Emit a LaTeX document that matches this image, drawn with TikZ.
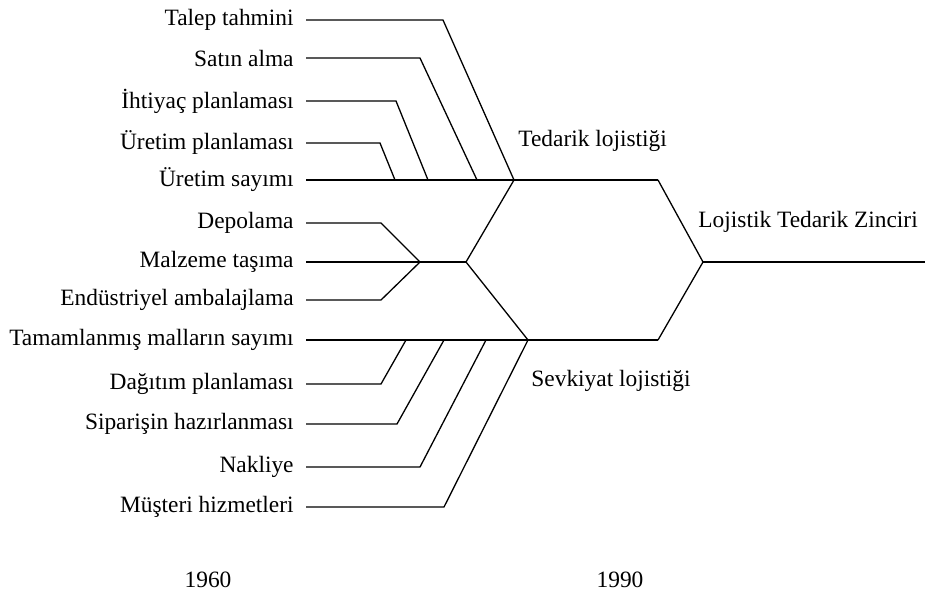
\documentclass[tikz,border=0pt]{standalone}
\usepackage{fontspec}
\setmainfont{Liberation Serif}
\usetikzlibrary{positioning}

\tikzset{
  lbl/.style={anchor=east,inner xsep=6pt,inner ysep=0pt,font=\fontsize{11.7}{13}\selectfont},
  txt/.style={inner sep=0pt,font=\fontsize{11.7}{13}\selectfont},
  branch/.style={line width=0.65pt,line join=miter}
}

\begin{document}
\begin{tikzpicture}[x=0.5pt,y=-0.5pt]
  \useasboundingbox (0,0) rectangle (925,595);
  % joints
  \coordinate (ted) at (514,180);
  \coordinate (dep) at (420,262);
  \coordinate (mid) at (466,262);
  \coordinate (sev) at (528,340);
  \coordinate (topend) at (658,180);
  \coordinate (botend) at (658,340);
  \coordinate (root) at (703,262);
  \coordinate (tail) at (925,262);
  % left labels
  \node[lbl] (talep) at (306,20) {Talep tahmini};
  \node[lbl] (satin) at (306,58) {Satın alma};
  \node[lbl] (ihtiyac) at (306,101) {İhtiyaç planlaması};
  \node[lbl] (uretpl) at (306,143) {Üretim planlaması};
  \node[lbl] (uretsay) at (306,180) {Üretim sayımı};
  \node[lbl] (depo) at (306,223) {Depolama};
  \node[lbl] (malz) at (306,262) {Malzeme taşıma};
  \node[lbl] (endus) at (306,300) {Endüstriyel ambalajlama};
  \node[lbl] (tamam) at (306,340) {Tamamlanmış malların sayımı};
  \node[lbl] (dagit) at (306,384) {Dağıtım planlaması};
  \node[lbl] (sipar) at (306,424) {Siparişin hazırlanması};
  \node[lbl] (nakl) at (306,467) {Nakliye};
  \node[lbl] (musteri) at (306,507) {Müşteri hizmetleri};
  % group labels
  \node[txt,anchor=west] (tedlbl) at (518,141) {Tedarik lojistiği};
  \node[txt,anchor=west] (sevlbl) at (531,381) {Sevkiyat lojistiği};
  \node[txt,anchor=west] (zincir) at (698,222) {Lojistik Tedarik Zinciri};
  \node[txt] (y1960) at (208,580) {1960};
  \node[txt] (y1990) at (620,580) {1990};
  % supply side
  \draw[branch] (talep.east) -- (443,20) -- (ted);
  \draw[branch] (satin.east) -- (420,58) -- (477,180);
  \draw[branch] (ihtiyac.east) -- (396,101) -- (428,180);
  \draw[branch] (uretpl.east) -- (380,143) -- (395,180);
  \draw[branch] (uretsay.east) -- (topend);
  % middle
  \draw[branch] (depo.east) -- (381,223) -- (dep);
  \draw[branch] (endus.east) -- (381,300) -- (dep);
  \draw[branch] (malz.east) -- (mid);
  \draw[branch] (ted) -- (mid) -- (sev);
  % shipping side
  \draw[branch] (tamam.east) -- (botend);
  \draw[branch] (dagit.east) -- (381,384) -- (406,340);
  \draw[branch] (sipar.east) -- (397,424) -- (444,340);
  \draw[branch] (nakl.east) -- (420,467) -- (486,340);
  \draw[branch] (musteri.east) -- (444,507) -- (sev);
  % root
  \draw[branch] (topend) -- (root) -- (botend);
  \draw[branch] (root) -- (tail);
\end{tikzpicture}
\end{document}
